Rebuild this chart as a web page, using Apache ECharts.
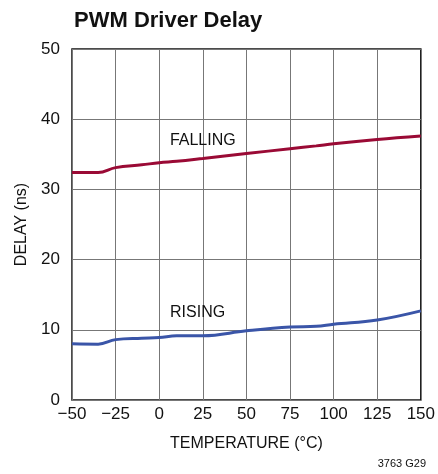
<!DOCTYPE html>
<html><head><meta charset="utf-8">
<script src="https://cdn.jsdelivr.net/npm/echarts@6/dist/echarts.min.js"></script>
<style>html,body{margin:0;padding:0;background:#fff}#c{width:438px;height:474px}</style>
</head><body><div id="c"></div>
<script>
const temps = [-50, -35, -25, -10, 0, 10, 25, 50, 75, 90, 100, 125, 150];
const falling = [32.4, 32.4, 33.1, 33.5, 33.8, 34.0, 34.4, 35.1, 35.8, 36.2, 36.5, 37.1, 37.6];
const rising = [8.0, 7.95, 8.6, 8.8, 8.9, 9.15, 9.15, 9.85, 10.4, 10.5, 10.8, 11.4, 12.7];
const curveLabels = [['FALLING', 25, 37.0], ['RISING', 22, 12.5]];
const F = '"Liberation Sans Narrow","Liberation Sans",Arial,sans-serif';
const chart = echarts.init(document.getElementById('c'));
chart.setOption({
  animation: false,
  title: {text: 'PWM Driver Delay', left: 69, top: 5, textStyle: {fontFamily: F, fontWeight: 'bold', fontSize: 22, color: '#111'}},
  grid: {left: 72, right: 15, top: 49, bottom: 74, show: true, borderColor: '#111', borderWidth: 1.5},
  xAxis: {type: 'value', min: -50, max: 150, interval: 25,
    axisLine: {show: false}, axisTick: {show: false},
    splitLine: {lineStyle: {color: '#777', width: 1}},
    axisLabel: {fontFamily: F, fontSize: 17, color: '#111', margin: 6, formatter: v => String(v).replace('-', '\u2212')},
    name: 'TEMPERATURE (°C)', nameLocation: 'middle', nameGap: 36,
    nameTextStyle: {fontFamily: F, fontSize: 16, color: '#111'}},
  yAxis: {type: 'value', min: 0, max: 50, interval: 10,
    axisLine: {show: false}, axisTick: {show: false},
    splitLine: {lineStyle: {color: '#777', width: 1}},
    axisLabel: {fontFamily: F, fontSize: 17, color: '#111', margin: 12},
    name: 'DELAY (ns)', nameLocation: 'middle', nameGap: 42, nameRotate: 90,
    nameTextStyle: {fontFamily: F, fontSize: 16, color: '#111'}},
  graphic: [
    {type: 'text', right: 12, top: 458, style: {text: '3763 G29', font: '11px ' + F, fill: '#111'}}
  ],
  series: [
    {type: 'line', data: temps.map((t, i) => [t, falling[i]]), smooth: 0.4, symbol: 'none',
      lineStyle: {color: '#9a0a35', width: 3}},
    {type: 'line', data: temps.map((t, i) => [t, rising[i]]), smooth: 0.4, symbol: 'none',
      lineStyle: {color: '#3a55a8', width: 3}},
    {type: 'scatter', symbolSize: 0, silent: true, itemStyle: {opacity: 1},
      data: curveLabels.map(l => ({value: [l[1], l[2]], name: l[0]})),
      label: {show: true, position: 'inside', formatter: p => p.name, fontFamily: F, fontSize: 16, color: '#111', opacity: 1}}
  ]
});
</script></body></html>
